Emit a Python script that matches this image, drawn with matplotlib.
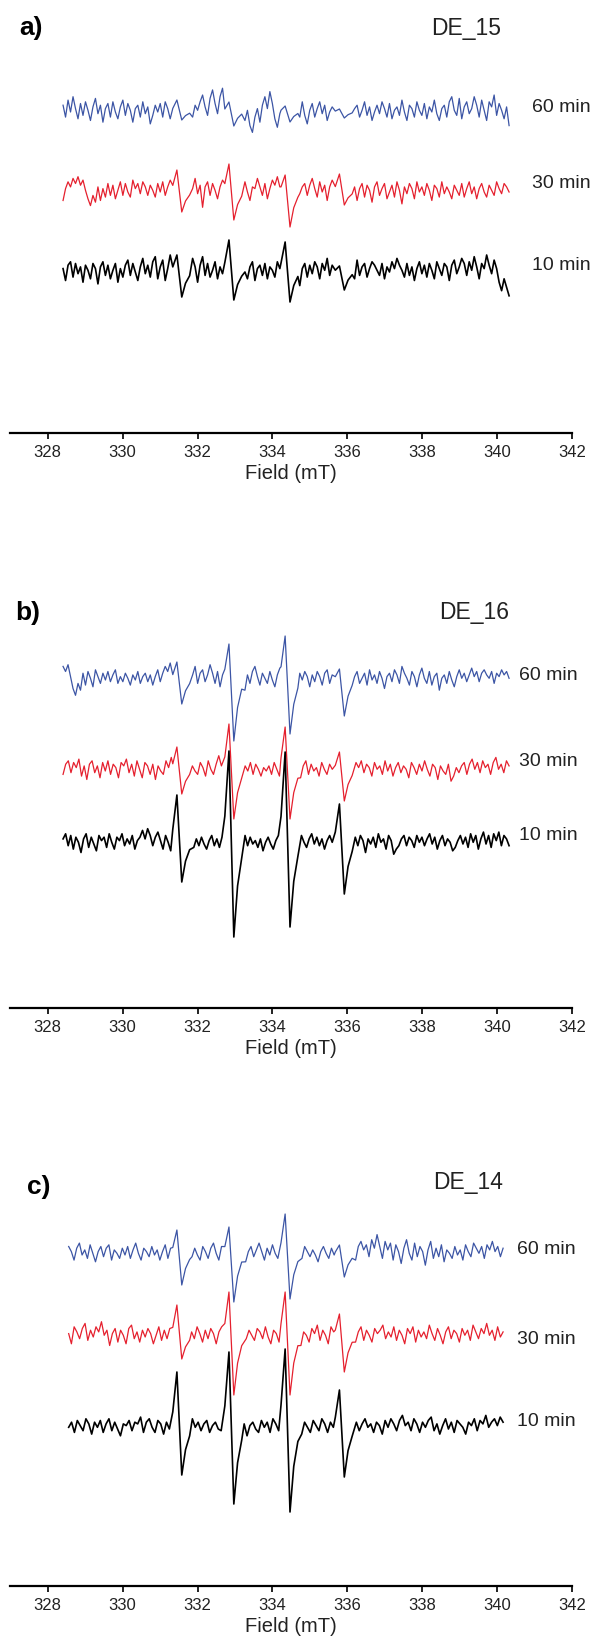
import numpy as np
import matplotlib.pyplot as plt

plt.rcParams['font.family'] = ['Liberation Sans', 'DejaVu Sans']

W, H = 598, 1641  # figure size in px

field_ticks = [328, 330, 332, 334, 336, 338, 340, 342]
line_centers = [331.51, 332.90, 334.40, 335.85]  # DMPO-OH quartet (mT)
times = ['60 min', '30 min', '10 min']
colors = ['#3c55a5', '#e5202e', 'black']

# (top, bottom) heights of the four lines for each trace, px
a_peaks = [[(12, 8), (10, 14), (6, 10), (3, 6)],
           [(22, 20), (28, 28), (17, 35), (18, 13)],
           [(17, 25), (32, 28), (30, 30), (6, 18)]]
b_peaks = [[(18, 24), (36, 61), (44, 54), (11, 36)],
           [(24, 23), (47, 48), (44, 48), (19, 30)],
           [(49, 38), (93, 93), (92, 83), (40, 50)]]
c_peaks = [[(25, 30), (28, 47), (41, 44), (10, 22)],
           [(32, 22), (45, 58), (45, 58), (23, 35)],
           [(57, 46), (77, 75), (80, 83), (39, 48)]]

# baseline noise (units of ~0.6 px)
a_blue = [4, -3, 7, 0, 9, 2, -4, 5, -2, 6, 1, -5, 3, 8, -1, 4, -6, 2, 5, -3,
          6, 0, -4, 3, 7, -2, 5, 1, -6, 2, 4, -3, 6, -1, 3, -7, -2, 4, 0, 5,
          -3, 6, 2, -4, 1, 5, -2, 7, 3, -5, 2, -8, -3, 4, 1, 6, 10, 3, -2, 8,
          13, 5, -1, 9, 14, 7, -3, -9, -4, -11, -2, -7, 3, -5, 1, -8, -12, -3, 2, -6,
          4, 9, 2, 12, 5, -4, -9, -1, -6, 3, -4, 7, 2, 10, 4, -3, 6, -2, -7, 1,
          5, -3, 2, 6, -1, 4, -5, 0, 3, -2, 7, 1, -4, 5, -1, 3, -6, 2, 4, -3,
          1, 6, -2, 3, -5, 0, 4, -1, 6, 2, -3, 5, -4, 1, 3, -2, 7, 0, -5, 4,
          2, -3, 6, 1, -2, 5, -4, 3, 0, 7, -1, -5, 2, 4, -3, 6, 9, 1, -2, 8,
          -4, 3, 6, -1, 2, 9, 4, -3, 7, 1, -5, 6, 3, 10, -2, 5, 1, -4, 3, -8]
a_red = [-5, 2, 6, 3, 8, 5, 9, 4, 7, 1, -4, -8, -2, -6, 3, -5, 2, -3, 5, -2,
         4, -4, 1, 6, -2, 5, 0, -3, 7, 2, 5, -1, 6, 3, -2, 4, 1, -3, 5, 0,
         6, -2, 3, 7, 1, -4, 4, 9, 2, -3, 5, -6, 2, 8, -1, 4, -9, 3, 6, -2,
         5, 1, -4, 3, 7, 0, -5, 2, 6, -3, 1, 4, -2, 6, 0, -5, 3, 2, 8, 3,
         -2, 5, -4, 2, 7, 4, 9, 3, -2, 6, 1, -3, 4, 2, 7, -1, 3, 5, -2, 4,
         8, 2, -3, 6, 0, 4, -5, 3, 7, -1, 5, 2, -4, 4, 1, 6, -2, 3, -5, 2,
         5, -3, 4, 1, -6, 3, 6, -2, 2, 5, -4, 0, 4, -3, 6, 1, -7, 3, -1, 5,
         2, -4, 6, 0, 3, -2, 5, 1, -5, 4, 2, -3, 6, -1, 3, 0, -4, 4, 1, -2,
         5, -3, 2, 6, -1, 3, -4, 2, 5, 0, -3, 4, 1, -2, 6, 2, -1, 5, 3, 0]
a_black = [2, -5, 4, 6, -3, 5, -1, 3, -6, 4, 1, -4, 5, 2, -7, 3, 6, -2, 4, -4,
           1, 5, -6, 2, -3, 4, 7, -2, 5, 0, -5, 3, 8, -1, 4, -3, 6, 9, -4, 3,
           7, -5, 2, 10, -2, -7, 5, 1, -3, 6, 2, -4, 8, 3, -6, 4, 9, -2, 5, -3,
           1, 6, -4, 3, -1, 5, -6, 2, -2, 4, 7, -3, 5, 0, -4, 3, 6, -5, 2, 4,
           -2, 5, -4, 3, 1, -3, 6, 2, -5, 4, 0, -6, -2, -9, -4, -8, 2, 5, -3, 4,
           -1, 6, 3, -4, 5, 1, 8, -2, 4, -5, 3, 6, 9, 2, -3, 6, 1, -4, 7, -2,
           3, 5, -3, 2, 6, 4, 1, -2, 5, -4, 3, 0, 6, 2, 8, 4, 1, -3, 5, -2,
           3, -5, 2, 6, -1, 4, -3, 5, 1, -4, 6, 2, -2, 5, 3, -5, 4, 7, -1, 3,
           8, 5, -2, 6, 1, 9, 3, -4, 5, 2, 10, 4, -1, 7, 2, -6, -11, -4, -9, -14]
b_blue = [8, 5, 9, 2, -5, -9, -2, -6, 4, -3, 5, 1, -4, 6, 2, -2, 4, 0, 5, -1,
          3, 6, -2, 2, -1, 4, 1, -3, 3, 0, 5, -2, 2, 4, -1, 3, -3, 2, 6, -1,
          4, 8, 5, 10, 3, -1, 6, 2, -4, 5, 1, -3, 3, 8, -2, 4, 6, -1, 3, 9,
          4, -2, 5, -4, 3, 7, 0, -5, 2, 6, -3, 4, 1, -6, 3, -2, 5, 8, 2, -3,
          4, 1, -2, 5, 0, -4, 3, 7, -1, 4, 2, -3, 6, 1, -2, 4, 0, 5, 2, -4,
          3, -1, 5, 2, -3, 4, 6, -2, 3, 1, -4, 5, 2, 7, -1, 4, -3, 2, 5, -2,
          1, 4, -3, 6, 0, 3, -2, 5, 1, -5, 2, 4, -1, 6, 3, -2, 8, 4, 1, -3,
          5, 2, -4, 3, 7, 1, -2, 5, -3, 2, 4, -6, 1, 3, -2, 5, 0, -4, 2, 6,
          1, 4, -1, 3, 7, 2, 5, -1, 4, 6, 3, 1, 5, -2, 4, 2, 6, 3, 5, 1]
b_red = [-2, 4, 6, -1, 5, 2, 7, -3, 3, -5, 4, 6, -1, 3, -4, 5, 0, 6, -2, 4,
         2, -4, 5, 3, 7, -1, 4, -3, 6, 1, -4, 5, 3, -2, 4, -5, 3, 0, -2, 6,
         2, 8, -1, 5, 3, -2, 6, 1, -4, 3, 0, -2, 5, 2, -3, 6, 1, -2, 4, 9,
         3, -1, 5, 7, 2, -3, 4, 1, -4, 3, 0, 5, -2, 4, 1, -3, 2, 0, 3, -2,
         5, 1, -3, 4, 6, -1, 3, -2, 5, 1, -4, 3, 6, -2, 4, 0, 2, -3, 5, 1,
         -2, 4, 1, -5, -2, 3, -6, 1, 4, -1, 3, 5, 2, 6, -1, 4, 2, -3, 5, 1,
         3, -2, 6, 0, 4, -3, 2, 5, -1, 3, 1, -4, 5, 2, -2, 4, 0, 6, 1, -3,
         4, 2, -5, 3, 0, -2, 4, -6, -3, 2, -1, 3, 5, -2, 4, 7, 1, 5, -1, 6,
         2, 4, -2, 5, 8, 1, 4, -1, 6, 3]
b_black = [3, 6, -1, 5, -3, 4, 1, -5, 3, 6, -2, 4, 0, -4, 5, 2, 4, -2, 6, 1,
           -3, 4, 2, 6, -1, 3, 0, 5, -3, 2, 4, 8, 3, 9, 5, -1, 4, 7, 2, -3,
           5, 1, -4, 3, 6, -2, 2, 5, -3, 4, 1, -2, 3, -1, 4, 0, -3, 2, 5, -1,
           3, -2, 4, 1, -3, 3, -4, 2, 0, -3, 3, 5, -1, 4, 0, 2, -2, 3, -4, 1,
           4, 0, -3, 2, 5, -2, 3, 1, 6, -1, 4, 2, -3, 5, 1, -2, 3, 6, 0, 4,
           -1, 3, -3, 2, 5, 1, -2, 4, 2, -4, 3, 6, 1, -2, 4, -1, 5, 2, -5, 3,
           0, 4, -2, 6, 1, 3, -3, 5, 2, -6, -3, -1, 3, 5, -1, 4, 2, -2, 5, 1,
           4, -1, 3, 6, 0, 4, -3, 2, 5, -1, 3, 1, -4, -2, 2, 5, 0, 4, -2, 6,
           1, 5, -3, 3, 7, 0, 5, -2, 6, 2, 7, -1, 5, 3, -1]
c_blue = [5, 2, -3, 4, 7, 0, 3, -2, 6, 1, -4, 2, 5, -1, 4, 6, -3, 3, 1, -2,
          4, 0, 5, -2, 3, 7, 1, -3, 4, 2, -1, 5, 0, 3, -3, 2, 6, -2, 4, 1,
          -1, 5, 2, -4, 3, 6, -1, 4, 0, -3, 5, 2, -2, 4, 7, 1, -3, 5, 2, -1,
          3, 6, 0, -2, 4, 1, -4, 2, 5, -1, 3, 7, 2, -3, 4, 0, 6, 1, -2, 3,
          2, -1, 4, 0, -3, 3, 1, -2, 5, 2, -1, 3, 0, -4, 2, 5, 1, -2, 4, 0,
          -3, 3, 1, 5, -1, 4, 2, -3, 5, 8, 3, 6, -1, 9, 4, 12, 5, -2, 8, 3,
          7, -3, 6, 2, -5, 4, 9, 1, -3, 7, -1, 5, 2, -6, 3, 8, -2, 4, -1, 6,
          -4, 3, 1, -2, 5, 0, 3, -3, 6, 2, -1, 7, 4, 1, 5, -2, 6, 3, 8, 2,
          5, -1, 4]
c_red = [2, -4, 6, 3, -1, 5, 8, -2, 4, 0, 6, 3, 9, 1, 4, -5, 2, 5, -3, 4,
         1, -4, 5, 7, -1, 3, -3, 4, 0, 5, 2, -4, 1, 6, -2, 4, -1, 5, 2, 1,
         -3, 4, 0, -2, 5, 3, -1, 6, 2, -3, 4, -1, 5, 2, -4, 3, 6, 0, -2, 4,
         1, 5, -3, 2, 7, -1, 4, 1, -2, 5, 3, -1, 6, 0, -4, 4, 2, -3, 5, -1,
         3, 6, -2, 4, 0, -5, 3, 1, -3, 5, 2, 7, -2, 4, 1, -4, 6, 3, -2, 5,
         0, 8, 2, -1, 5, -3, 3, 6, -2, 4, 1, -3, 5, 2, 4, 7, -1, 3, 0, 6,
         -2, 4, 1, -4, 5, 2, 6, -3, 4, 0, 3, -1, 7, 2, -2, 5, 1, -4, 3, 6,
         -1, 4, 2, -3, 5, 1, 4, -2, 7, 3, -1, 5, 2, 8, 1, 4, -2, 6, 0, 3]
c_black = [1, 4, -2, 5, 2, -1, 6, 3, -3, 4, 1, 5, -2, 3, 6, -1, 4, 0, -4, 3,
           2, 5, -1, 4, 3, 7, -2, 4, 6, 1, -2, 5, 3, -3, 4, 0, 2, -1, 5, -2,
           4, 1, -3, 6, 1, 4, -1, 3, 5, -2, 2, 4, 0, -1, 5, 2, -3, 4, 1, 6,
           -1, 3, -4, 2, 4, 0, -2, 5, 1, 4, -2, 6, 3, -1, 5, 1, 4, 7, -1, 3,
           0, -3, 4, 1, -2, 5, 2, -1, 6, 3, -2, 4, 1, -4, -1, 3, -3, -6, -2, 1,
           4, -1, 3, 6, 1, 3, -2, 4, 2, -3, 5, 1, 6, 3, -1, 5, 8, 2, 4, -1,
           6, 3, -2, 4, 1, 5, 7, -1, 3, -3, 2, 6, 0, 4, -2, 5, 3, 1, -3, 4,
           2, 6, -1, 5, 3, 8, 1, 4, 6, 2, 7, 4]

panels = [
    dict(tag='a)', name='DE_15', top=0, axis=433, rng=(328.41, 340.32),
         base=[321, 241, 161], noise=[a_blue, a_red, a_black], peaks=a_peaks,
         tag_xy=(19, 28), name_xy=(431, 28), lab_x=532, lab_y=[107, 183, 265]),
    dict(tag='b)', name='DE_16', top=520, axis=1008, rng=(328.41, 340.32),
         base=[328, 237, 164], noise=[b_blue, b_red, b_black], peaks=b_peaks,
         tag_xy=(15, 613), name_xy=(439, 613), lab_x=519, lab_y=[675, 762, 835]),
    dict(tag='c)', name='DE_14', top=1100, axis=1586, rng=(328.56, 340.16),
         base=[331, 249, 157], noise=[c_blue, c_red, c_black], peaks=c_peaks,
         tag_xy=(27, 1187), name_xy=(433, 1183), lab_x=517, lab_y=[1250, 1339, 1422]),
]

NOISE_PX = 1.7  # px per noise unit


def build_trace(x0, x1, noise, peaks):
    x = np.linspace(x0, x1, len(noise))
    y = np.array(noise, float) * NOISE_PX
    keep = np.ones(len(x), bool)
    px_, py_ = [], []
    for c, (top, bot) in zip(line_centers, peaks):
        keep &= ~((x > c - 0.2) & (x < c + 0.33))
        px_ += [c - 0.17, c - 0.06, c + 0.07, c + 0.17, c + 0.28]
        py_ += [0.3 * top, top, -bot, -0.45 * bot, -0.15 * bot]
    xs = np.concatenate([x[keep], px_])
    ys = np.concatenate([y[keep], py_])
    order = np.argsort(xs)
    return xs[order], ys[order]


fig = plt.figure(figsize=(W / 100, H / 100), dpi=100)
left_px, right_px = 9.5, 572
x_left = 328 - (47.7 - left_px) / ((right_px - 47.7) / 14)

for p in panels:
    h = p['axis'] - p['top']
    ax = fig.add_axes([left_px / W, 1 - p['axis'] / H, (right_px - left_px) / W, h / H])
    ax.set_xlim(x_left, 342)
    ax.set_ylim(0, h)
    for sp in ['top', 'left', 'right']:
        ax.spines[sp].set_visible(False)
    ax.spines['bottom'].set_linewidth(1.6)
    ax.set_yticks([])
    ax.set_xticks(field_ticks)
    ax.set_xticklabels([str(t) for t in field_ticks])
    ax.tick_params(axis='x', length=4.5, width=1.4, pad=4, labelsize=12, colors='#222222')
    ax.set_xlabel('Field (mT)', fontsize=14.5, labelpad=3, color='#222222')
    ax.patch.set_visible(False)

    for i in range(3):
        xs, ys = build_trace(p['rng'][0], p['rng'][1], p['noise'][i], p['peaks'][i])
        ax.plot(xs, ys + p['base'][i], color=colors[i],
                lw=1.2 if i == 2 else 0.9, clip_on=False)

    fig.text(p['tag_xy'][0] / W, 1 - p['tag_xy'][1] / H, p['tag'],
             fontsize=19, fontweight='bold', va='center', ha='left')
    fig.text(p['name_xy'][0] / W, 1 - p['name_xy'][1] / H, p['name'],
             fontsize=16.5, va='center', ha='left', color='#222222')
    for t, ly in zip(times, p['lab_y']):
        fig.text(p['lab_x'] / W, 1 - ly / H, t, fontsize=14, va='center',
                 ha='left', color='#222222')

fig.savefig('out.png', dpi=100)
